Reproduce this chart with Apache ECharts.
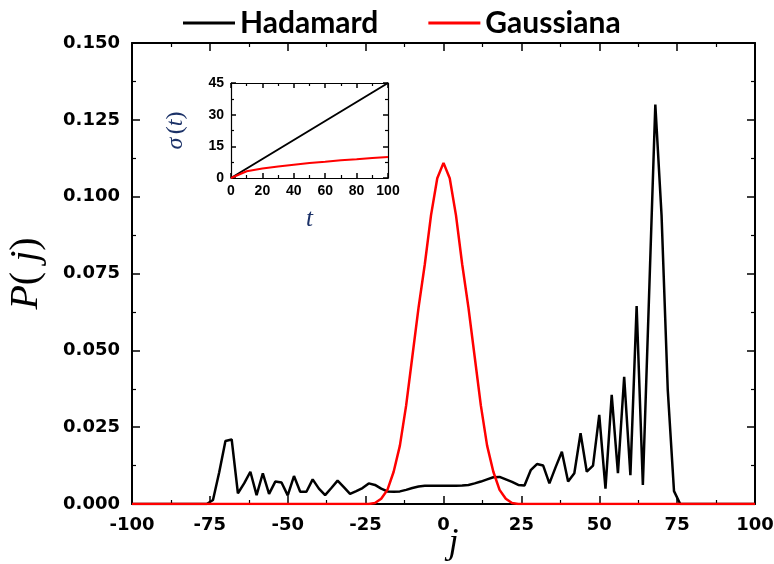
<!DOCTYPE html>
<html>
<head>
<meta charset="utf-8">
<script src="https://cdn.jsdelivr.net/npm/echarts@6/dist/echarts.min.js"></script>
<style>
  html, body { margin: 0; padding: 0; background: #fff; }
  #chart { width: 774px; height: 564px; }
</style>
</head>
<body>
<div id="chart"></div>
<script>
// main panel: P(j) vs j at t = 100
const hadJ = [-100, -76, -74, -72, -70, -68, -66, -64, -62, -60, -58, -56, -54, -52, -50, -48, -46, -44, -42, -40,
  -38, -36, -34, -32, -30, -28, -26, -24, -22, -20, -18, -16, -14, -12, -10, -8, -6, -4, -2,
  0, 2, 4, 6, 8, 10, 12, 14, 16, 18, 20, 22, 24, 26, 28, 30, 32, 34, 36, 38,
  40, 42, 44, 46, 48, 50, 52, 54, 56, 58, 60, 62, 64, 66, 68, 70, 72, 74, 76, 100];
const hadP = [0, 0, 0.0013, 0.0103, 0.0205, 0.0210, 0.0035, 0.0067, 0.0105, 0.0029, 0.0100, 0.0033, 0.0073, 0.0070, 0.0028, 0.0091, 0.0040, 0.0040, 0.0080, 0.0050,
  0.0029, 0.0052, 0.0076, 0.0055, 0.0033, 0.0042, 0.0052, 0.0067, 0.0062, 0.0050, 0.0041, 0.0040, 0.0041, 0.0046, 0.0052, 0.0057, 0.0059, 0.0059, 0.0059,
  0.0059, 0.0059, 0.0059, 0.0060, 0.0062, 0.0067, 0.0073, 0.0080, 0.0087, 0.0088, 0.0080, 0.0072, 0.0062, 0.0060, 0.0110, 0.0130, 0.0125, 0.0067, 0.0120, 0.0170,
  0.0073, 0.0100, 0.0230, 0.0105, 0.0125, 0.0290, 0.0050, 0.0355, 0.0100, 0.0414, 0.0094, 0.0644, 0.0062, 0.0680, 0.1300, 0.0940, 0.0370, 0.0042, 0, 0];

const gaussJ = [-100, -24, -22, -20, -18, -16, -14, -12, -10, -8, -6, -4, -2, 0, 2, 4, 6, 8, 10, 12, 14, 16, 18, 20, 22, 24, 100];
const gaussP = [0, 0, 0.0003, 0.0017, 0.0046, 0.0105, 0.019, 0.032, 0.048, 0.064, 0.078, 0.094, 0.106, 0.111,
  0.106, 0.094, 0.078, 0.064, 0.048, 0.032, 0.019, 0.0105, 0.0046, 0.0017, 0.0003, 0, 0];

// inset: sigma(t)
const insetT = [0, 10, 20, 30, 40, 50, 60, 70, 80, 90, 100];
const sigmaHad = [0, 4.5, 9, 13.5, 18, 22.5, 27, 31.5, 36, 40.5, 45];
const sigmaGauss = [0, 3.2, 4.5, 5.5, 6.3, 7.1, 7.7, 8.4, 8.9, 9.5, 10];

const seriesNames = ['Hadamard', 'Gaussiana'];

const pairs = (xs, ys) => xs.map((x, i) => [x, ys[i]]);

const tickFont = { color: '#000', fontFamily: 'DejaVu Sans', fontWeight: 'bold', fontSize: 18 };
const insetFont = { color: '#000', fontFamily: 'Liberation Sans', fontWeight: 'bold', fontSize: 14 };
const navy = '#1c3268';

// frame axis helper (ticks pointing inward)
let frameAxis = (extra, tickLen, minorLen, width) => Object.assign({
  type: 'value',
  nameMoveOverlap: false,
  axisLine: { show: true, onZero: false, lineStyle: { color: '#000', width: width } },
  axisTick: { show: true, inside: true, length: tickLen, lineStyle: { color: '#000', width: 1.5 } },
  minorTick: { show: true, splitNumber: 2, length: minorLen, lineStyle: { color: '#000', width: 1.2 } },
  splitLine: { show: false }
}, extra);

let option = {
  animation: false,
  backgroundColor: '#fff',
  legend: {
    data: seriesNames,
    left: 178,
    top: 3,
    icon: 'rect',
    itemWidth: 52,
    itemHeight: 3,
    itemGap: 50,
    textStyle: { color: '#000', fontFamily: 'Lato', fontWeight: 'bold', fontSize: 30 }
  },
  grid: [
    { left: 132, top: 43, width: 623, height: 461, outerBoundsMode: 'none' },
    { left: 231, top: 83, width: 157, height: 95, outerBoundsMode: 'none' }
  ],
  xAxis: [
    frameAxis({
      gridIndex: 0, position: 'bottom', min: -100, max: 100, interval: 25,
      axisLabel: Object.assign({ margin: 12 }, tickFont),
      name: 'j', nameLocation: 'middle', nameGap: 22,
      nameTextStyle: { color: '#000', fontFamily: 'Liberation Serif', fontStyle: 'italic', fontSize: 36, padding: [0, 0, 0, 20] }
    }, 8, 4, 2),
    frameAxis({ gridIndex: 0, position: 'top', min: -100, max: 100, interval: 25, axisLabel: { show: false } }, 8, 4, 2),
    frameAxis({
      gridIndex: 1, position: 'bottom', min: 0, max: 100, interval: 20,
      axisLabel: Object.assign({ margin: 6 }, insetFont),
      name: 't', nameLocation: 'middle', nameGap: 29,
      nameTextStyle: { color: navy, fontFamily: 'Liberation Serif', fontStyle: 'italic', fontSize: 25 }
    }, 5, 3, 1.2),
    frameAxis({ gridIndex: 1, position: 'top', min: 0, max: 100, interval: 20, axisLabel: { show: false } }, 5, 3, 1.2)
  ],
  yAxis: [
    frameAxis({
      gridIndex: 0, position: 'left', min: 0, max: 0.15, interval: 0.025,
      axisLabel: Object.assign({ margin: 12, formatter: v => v.toFixed(3) }, tickFont),
      name: '{i|P}{r|(}{i| j}{r|)}', nameLocation: 'middle', nameGap: 86, nameRotate: 90,
      nameTextStyle: {
        rich: {
          i: { color: '#000', fontFamily: 'Liberation Serif', fontStyle: 'italic', fontSize: 40 },
          r: { color: '#000', fontFamily: 'Liberation Serif', fontSize: 40 }
        }
      }
    }, 8, 4, 2),
    frameAxis({ gridIndex: 0, position: 'right', min: 0, max: 0.15, interval: 0.025, axisLabel: { show: false } }, 8, 4, 2),
    frameAxis({
      gridIndex: 1, position: 'left', min: 0, max: 45, interval: 15,
      axisLabel: Object.assign({ margin: 7 }, insetFont),
      name: '{i|σ} {r|(}{i|t}{r|)}', nameLocation: 'middle', nameGap: 43, nameRotate: 90,
      nameTextStyle: {
        rich: {
          i: { color: navy, fontFamily: 'Liberation Serif', fontStyle: 'italic', fontSize: 24 },
          r: { color: navy, fontFamily: 'Liberation Serif', fontSize: 24 }
        }
      }
    }, 5, 3, 1.2),
    frameAxis({ gridIndex: 1, position: 'right', min: 0, max: 45, interval: 15, axisLabel: { show: false } }, 5, 3, 1.2)
  ],
  series: [
    {
      name: seriesNames[0], type: 'line', xAxisIndex: 0, yAxisIndex: 0,
      data: pairs(hadJ, hadP), showSymbol: false, symbol: 'none',
      itemStyle: { color: '#000' }, lineStyle: { color: '#000', width: 2.5 }
    },
    {
      name: seriesNames[1], type: 'line', xAxisIndex: 0, yAxisIndex: 0,
      data: pairs(gaussJ, gaussP), showSymbol: false, symbol: 'none',
      itemStyle: { color: '#ff0000' }, lineStyle: { color: '#ff0000', width: 2.5 }
    },
    {
      name: 'inset-h', type: 'line', xAxisIndex: 2, yAxisIndex: 2,
      data: pairs(insetT, sigmaHad), showSymbol: false, symbol: 'none',
      lineStyle: { color: '#000', width: 2 }
    },
    {
      name: 'inset-g', type: 'line', xAxisIndex: 2, yAxisIndex: 2,
      data: pairs(insetT, sigmaGauss), showSymbol: false, symbol: 'none',
      lineStyle: { color: '#ff0000', width: 2 }
    }
  ]
};

let chart = echarts.init(document.getElementById('chart'));
chart.setOption(option);
</script>
</body>
</html>
